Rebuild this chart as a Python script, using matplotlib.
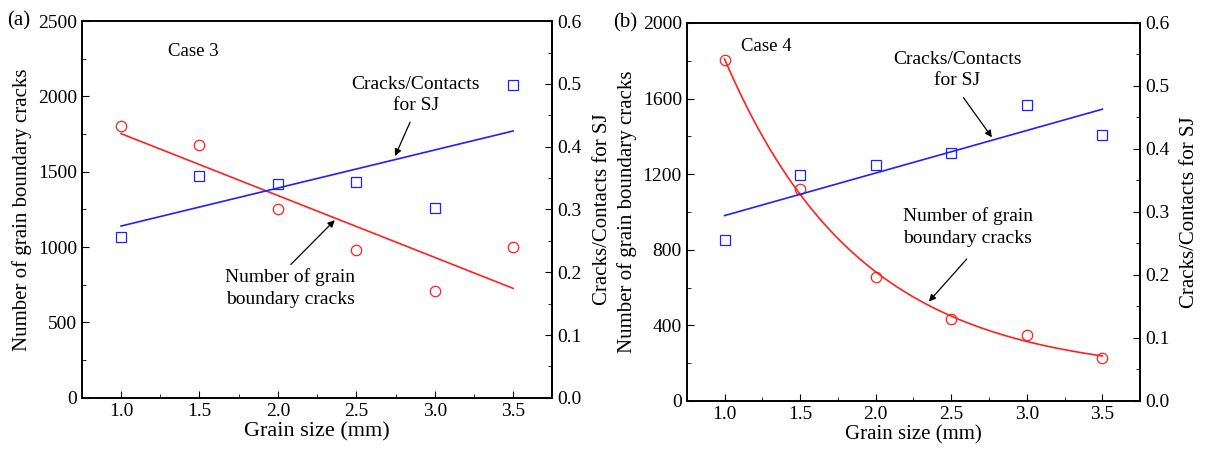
import numpy as np
import matplotlib
matplotlib.use("Agg")
import matplotlib.pyplot as plt
from matplotlib.ticker import MultipleLocator

plt.rcParams['font.family'] = ['Liberation Serif', 'DejaVu Serif']

# ---------- data ----------
grain_size = [1.0, 1.5, 2.0, 2.5, 3.0, 3.5]

cracks_case3 = [1805, 1681, 1255, 984, 710, 1004]
ratio_case3 = [0.256, 0.354, 0.341, 0.344, 0.303, 0.498]

cracks_case4 = [1802, 1123, 656, 432, 347, 228]
ratio_case4 = [0.256, 0.358, 0.374, 0.393, 0.469, 0.422]

RED = '#ff2020'
BLUE = '#2020ff'


def exp_fit(x, y):
    # y = y0 + A*exp(-x/t), grid search on t, least squares for y0, A
    x = np.asarray(x)
    y = np.asarray(y)
    best = None
    for t in np.linspace(0.3, 3.0, 541):
        M = np.column_stack([np.ones_like(x), np.exp(-x / t)])
        coef, *_ = np.linalg.lstsq(M, y, rcond=None)
        err = np.sum((M @ coef - y) ** 2)
        if best is None or err < best[0]:
            best = (err, coef, t)
    _, (y0, a), t = best
    return lambda xx: y0 + a * np.exp(-xx / t)


def style_axes(ax, ax2, ymax, ymajor):
    ax.set_xlim(0.75, 3.75)
    ax.set_ylim(0, ymax)
    ax2.set_ylim(0, 0.6)
    ax.xaxis.set_major_locator(MultipleLocator(0.5))
    ax.xaxis.set_minor_locator(MultipleLocator(0.25))
    ax.yaxis.set_major_locator(MultipleLocator(ymajor))
    ax.yaxis.set_minor_locator(MultipleLocator(ymajor / 2))
    ax2.yaxis.set_major_locator(MultipleLocator(0.1))
    ax2.yaxis.set_minor_locator(MultipleLocator(0.05))
    ax.tick_params(which='both', direction='in', top=False, right=False, labelsize=14)
    ax.tick_params(which='major', length=5)
    ax.tick_params(which='minor', length=3)
    ax2.tick_params(which='both', direction='in', labelsize=14)
    ax2.tick_params(which='major', length=5)
    ax2.tick_params(which='minor', length=3)
    ax.xaxis.set_major_formatter(plt.FormatStrFormatter('%.1f'))
    ax2.yaxis.set_major_formatter(plt.FormatStrFormatter('%.1f'))
    for s in ax.spines.values():
        s.set_linewidth(1.2)
    for s in ax2.spines.values():
        s.set_linewidth(1.2)


fig = plt.figure(figsize=(12.22, 4.5), dpi=100)
arrow = dict(arrowstyle='-|>', color='black', lw=0.9, mutation_scale=10)

# ---------- (a) Case 3 ----------
ax = fig.add_axes([0.067, 0.116, 0.385, 0.837])
ax2 = ax.twinx()
xs = np.array([1.0, 3.5])
p = np.polyfit(grain_size, cracks_case3, 1)
ax.plot(xs, np.polyval(p, xs), color=RED, lw=1.2)
ax.plot(grain_size, cracks_case3, 'o', mfc='none', mec=RED, ms=7.5, mew=0.9)
q = np.polyfit(grain_size, ratio_case3, 1)
ax2.plot(xs, np.polyval(q, xs), color=BLUE, lw=1.2)
ax2.plot(grain_size, ratio_case3, 's', mfc='none', mec=BLUE, ms=6.5, mew=0.9)
style_axes(ax, ax2, 2500, 500)
ax.set_xlabel('Grain size (mm)', fontsize=16, labelpad=2)
ax.set_ylabel('Number of grain boundary cracks', fontsize=15, labelpad=4)
ax2.set_ylabel('Cracks/Contacts for SJ', fontsize=15, labelpad=8)
ax.text(1.3, 2300, 'Case 3', fontsize=13.5, va='center')
ax.text(2.88, 2010, 'Cracks/Contacts\nfor SJ', fontsize=14, ha='center', va='center', linespacing=1.35)
ax.annotate('', xy=(2.74, 1588), xytext=(2.85, 1846), arrowprops=arrow)
ax.text(2.08, 728, 'Number of grain\nboundary cracks', fontsize=14, ha='center', va='center', linespacing=1.35)
ax.annotate('', xy=(2.375, 1192), xytext=(2.07, 872), arrowprops=arrow)
fig.text(0.006, 0.953, '(a)', fontsize=15, va='center')

# ---------- (b) Case 4 ----------
bx = fig.add_axes([0.562, 0.109, 0.371, 0.840])
bx2 = bx.twinx()
f = exp_fit(grain_size, cracks_case4)
xx = np.linspace(1.0, 3.5, 200)
bx.plot(xx, f(xx), color=RED, lw=1.2)
bx.plot(grain_size, cracks_case4, 'o', mfc='none', mec=RED, ms=7.5, mew=0.9)
r = np.polyfit(grain_size, ratio_case4, 1)
bx2.plot(xs, np.polyval(r, xs), color=BLUE, lw=1.2)
bx2.plot(grain_size, ratio_case4, 's', mfc='none', mec=BLUE, ms=6.5, mew=0.9)
style_axes(bx, bx2, 2000, 400)
bx.set_xlabel('Grain size (mm)', fontsize=15, labelpad=2)
bx.set_ylabel('Number of grain boundary cracks', fontsize=15, labelpad=4)
bx2.set_ylabel('Cracks/Contacts for SJ', fontsize=15, labelpad=8)
bx.text(1.11, 1878, 'Case 4', fontsize=13.5, va='center')
bx.text(2.54, 1750, 'Cracks/Contacts\nfor SJ', fontsize=14, ha='center', va='center', linespacing=1.35)
bx.annotate('', xy=(2.78, 1383), xytext=(2.57, 1617), arrowprops=arrow)
bx.text(2.61, 921, 'Number of grain\nboundary cracks', fontsize=14, ha='center', va='center', linespacing=1.35)
bx.annotate('', xy=(2.34, 515), xytext=(2.615, 762), arrowprops=arrow)
fig.text(0.502, 0.949, '(b)', fontsize=15, va='center')

fig.savefig('out.png', dpi=100)
